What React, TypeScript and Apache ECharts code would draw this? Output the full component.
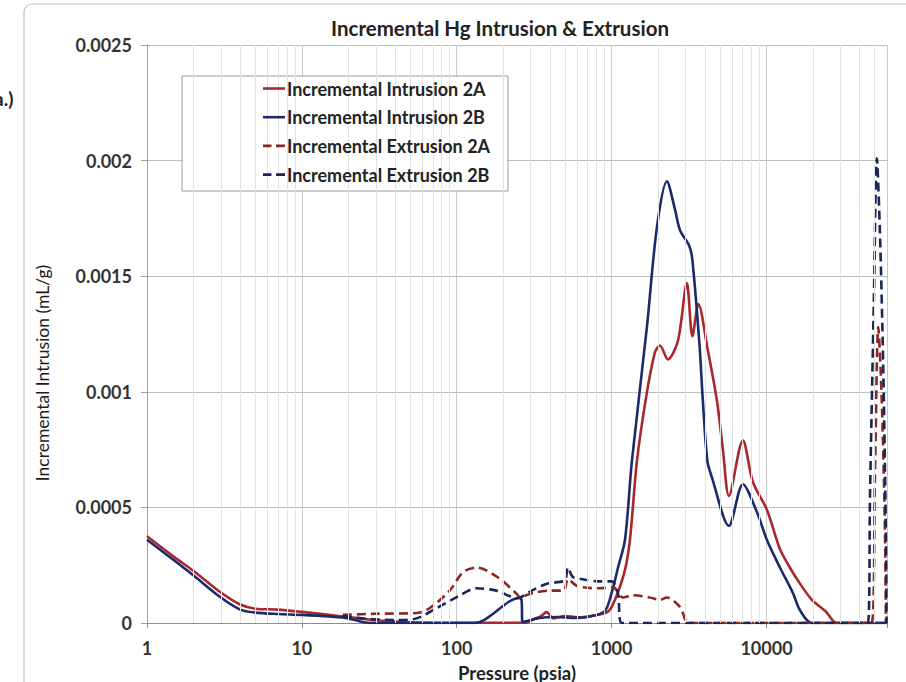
import React, { useEffect, useRef } from "react";
import * as echarts from "echarts";

// Pressure (psia) vs incremental volume (mL/g)
const intrusion2A: [number, number][] = [
  [1, 0.000375], [1.5, 0.000285], [2, 0.000225], [3, 0.000132], [4, 0.00008], [5, 0.000062],
  [7, 0.000058], [10, 0.000048], [15, 0.000035], [20, 0.000026], [30, 0.000012], [50, 0.000003],
  [100, 0.000001], [280, 0.000001], [310, 0.000015], [350, 0.00003], [380, 0.000047], [420, 0.00002],
  [500, 0.00003], [600, 0.000025], [800, 0.000035], [950, 0.00005], [1050, 0.0001], [1210, 0.00022],
  [1313, 0.00036], [1457, 0.0007], [1683, 0.00099], [1904, 0.00117], [2050, 0.0012], [2310, 0.00114],
  [2680, 0.00122], [3060, 0.00147], [3323, 0.00124], [3633, 0.00138], [4154, 0.00119], [4790, 0.00096],
  [5230, 0.00075], [5720, 0.00055], [7040, 0.00079], [8170, 0.00061], [10060, 0.00049], [12210, 0.00032],
  [14160, 0.00024], [15720, 0.00019], [19640, 0.0001], [24180, 0.00005], [28480, 0], [60000, 0],
];

const intrusion2B: [number, number][] = [
  [1, 0.00036], [1.5, 0.00027], [2, 0.000205], [3, 0.00011], [4, 0.000058], [5, 0.000045],
  [7, 0.000039], [10, 0.000035], [15, 0.000028], [20, 0.00002], [25, 0.000003], [30, 0], [130, 0],
  [253, 0.000108], [262, 0.0001], [266, 0.000005], [290, 0.00001], [330, 0.00002], [380, 0.000025],
  [450, 0.000026], [550, 0.000022], [700, 0.000026], [900, 0.00005], [1000, 0.00013], [1100, 0.00024],
  [1220, 0.00036], [1352, 0.0007], [1690, 0.00128], [1960, 0.00171], [2275, 0.00191], [2563, 0.00179],
  [2760, 0.0017], [3178, 0.00163], [3323, 0.00157], [3688, 0.00121], [3884, 0.00096], [4154, 0.0007],
  [4441, 0.00063], [5720, 0.00042], [7040, 0.0006], [8670, 0.00048], [10060, 0.00036], [12210, 0.00024],
  [14810, 0.00013], [16430, 0.000056], [19640, 0], [60000, 0],
];

const extrusion2A: [number, number][] = [
  [18.4, 0.000035], [30, 0.00004], [55, 0.000043], [67, 0.000065], [90, 0.00014], [110, 0.00022],
  [135, 0.00024], [182, 0.0002], [245, 0.000125], [254, 0.000112], [310, 0.00013], [400, 0.00014],
  [490, 0.00014], [522, 0.00019], [600, 0.00016], [840, 0.00015], [1020, 0.000155], [1183, 0.00011],
  [1373, 0.00012], [1767, 0.00011], [2050, 0.0001], [2275, 0.00011], [2760, 0.00007], [3178, 0],
  [47700, 0], [50100, 0.00062], [52700, 0.00128], [55400, 0.00098], [58200, 0.0004], [59000, 0],
];

const extrusion2B: [number, number][] = [
  [18.4, 0.00003], [27.5, 0.000017], [41, 0.000013], [55, 0.00002], [74.5, 0.000065], [100, 0.000112],
  [134, 0.00015], [180, 0.00014], [245, 0.000108], [305, 0.00014], [382, 0.00017], [485, 0.00018],
  [505, 0.00019], [522, 0.00024], [560, 0.0002], [640, 0.00019], [830, 0.00018], [1000, 0.00018],
  [1098, 0.00013], [1165, 0], [45150, 0], [46600, 0.00055], [49400, 0.00141], [51600, 0.00201],
  [53950, 0.0017], [56680, 0.00112], [58980, 0.0004], [59600, 0],
];

const seriesNames = [
  "Incremental Intrusion 2A",
  "Incremental Intrusion 2B",
  "Incremental Extrusion 2A",
  "Incremental Extrusion 2B",
];
const xLabelValues = [1, 10, 100, 1000, 10000];
const minorGridValues = [
  2, 3, 4, 5, 6, 7, 8, 9, 20, 30, 40, 50, 60, 70, 80, 90, 200, 300, 400, 500, 600, 700, 800, 900,
  2000, 3000, 4000, 5000, 6000, 7000, 8000, 9000, 20000, 30000, 40000, 50000,
];

const FONT = "Lato, 'Open Sans', sans-serif";
const SOLID_ICON = "path://M0,0H22V2.6H0Z";
const DASH_ICON = "path://M0,0H8.5V2.6H0ZM13,0H22V2.6H13Z";

export default function App() {
  const ref = useRef<HTMLDivElement>(null);
  useEffect(() => {
    if (!ref.current) return;
    const chart = echarts.init(ref.current, undefined, { renderer: "svg", width: 906, height: 682 });
    const red = "#a8282d";
    const navy = "#1c2a6b";
    const dashRed = "#8b2626";
    const dashNavy = "#1a2656";
    const lineSeries = (name: string, data: [number, number][], color: string, dashed: boolean) => ({
      name,
      type: "line",
      data,
      showSymbol: false,
      symbol: "none",
      smooth: 0.3,
      z: 3,
      lineStyle: { color, width: 2.6, type: dashed ? [9, 5] : "solid" },
      itemStyle: { color },
    });
    chart.setOption({
      animation: false,
      backgroundColor: "#ffffff",
      textStyle: { fontFamily: FONT },
      title: {
        text: "Incremental Hg Intrusion & Extrusion",
        left: 495,
        textAlign: "center",
        top: 12,
        textStyle: { fontFamily: FONT, fontSize: 20.5, fontWeight: "bold", color: "#222" },
      },
      grid: {
        left: 147,
        right: 19,
        top: 45,
        bottom: 59,
        containLabel: false,
        outerBoundsMode: "none",
      },
      legend: {
        data: seriesNames.map((n, i) => ({ name: n, icon: i < 2 ? SOLID_ICON : DASH_ICON })),
        orient: "vertical",
        left: 263,
        top: 79,
        padding: 0,
        itemGap: 9.7,
        itemWidth: 22,
        itemHeight: 14,
        symbolKeepAspect: true,
        z: 10,
        textStyle: {
          fontFamily: FONT,
          fontSize: 18,
          lineHeight: 19,
          fontWeight: "bold",
          color: "#222",
          padding: [0, 0, 0, -3],
        },
      },
      xAxis: {
        type: "log",
        logBase: 10,
        min: 1,
        max: 60000,
        name: "Pressure (psia)",
        nameLocation: "middle",
        nameGap: 40,
        nameTextStyle: { fontFamily: FONT, fontSize: 18.5, fontWeight: "bold", color: "#222" },
        axisLine: { show: true, lineStyle: { color: "#8c8c8c", width: 1.2 } },
        axisTick: { show: true, length: 5, lineStyle: { color: "#8c8c8c" } },
        axisLabel: {
          margin: 16,
          fontFamily: FONT,
          fontSize: 18,
          fontWeight: "bold",
          color: "#333",
          formatter: (v: number) => {
            const r = Math.round(v);
            return xLabelValues.includes(r) ? String(r) : "";
          },
        },
        splitLine: { show: true, lineStyle: { color: "#c9c9c9", width: 1 } },
      },
      yAxis: {
        type: "value",
        min: 0,
        max: 0.0025,
        interval: 0.0005,
        axisLine: { show: true, lineStyle: { color: "#a0a0a0" } },
        axisTick: { show: true, length: 6, lineStyle: { color: "#a0a0a0" } },
        axisLabel: {
          margin: 15,
          fontFamily: FONT,
          fontSize: 18,
          fontWeight: "bold",
          color: "#333",
          formatter: (v: number) => String(+v.toFixed(4)),
        },
        splitLine: { show: true, lineStyle: { color: "#bdbdbd", width: 1 } },
      },
      graphic: [
        {
          type: "rect",
          shape: { x: 24, y: 4, width: 900, height: 700, r: 8 },
          style: { fill: "none", stroke: "#c4c4c4", lineWidth: 1.2 },
          z: 0,
          silent: true,
        },
        {
          type: "text",
          x: -6,
          y: 89,
          style: { text: "a.)", font: `bold 19px ${FONT}`, fill: "#222" },
          z: 1,
        },
        {
          type: "text",
          x: 42,
          y: 373,
          rotation: Math.PI / 2,
          style: {
            text: "Incremental Intrusion (mL/g)",
            font: `17.5px ${FONT}`,
            fill: "#1a1a1a",
            align: "center",
            verticalAlign: "middle",
          },
          z: 1,
        },
        {
          type: "rect",
          shape: { x: 182, y: 76, width: 326, height: 115 },
          style: { fill: "#ffffff", stroke: "#9a9a9a", lineWidth: 1 },
          z: 5,
          silent: true,
        },
      ],
      series: [
        {
          name: "minor-grid",
          type: "line",
          data: [],
          z: 1,
          silent: true,
          markLine: {
            silent: true,
            symbol: "none",
            label: { show: false },
            lineStyle: { color: "#e2e2e2", width: 1, type: "solid" },
            data: minorGridValues.map((v) => ({ xAxis: v })),
          },
        },
        lineSeries(seriesNames[0], intrusion2A, red, false),
        lineSeries(seriesNames[1], intrusion2B, navy, false),
        lineSeries(seriesNames[2], extrusion2A, dashRed, true),
        lineSeries(seriesNames[3], extrusion2B, dashNavy, true),
      ],
    });
    return () => chart.dispose();
  }, []);
  return (
    <div
      ref={ref}
      style={{ position: "fixed", left: 0, top: 0, width: 906, height: 682, background: "#fff" }}
    />
  );
}
